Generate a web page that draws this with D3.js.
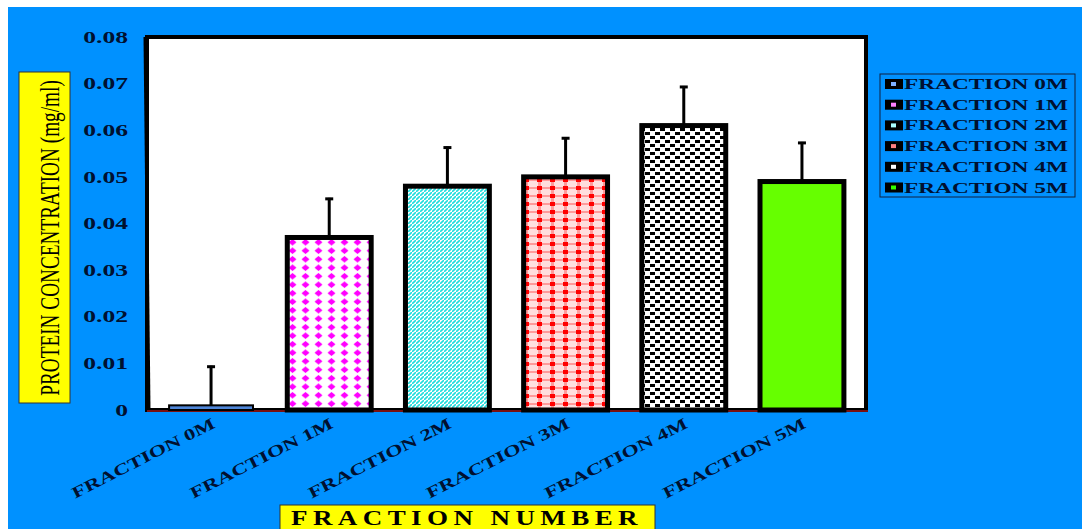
<!DOCTYPE html>
<html>
<head>
<meta charset="utf-8">
<script src="https://cdn.jsdelivr.net/npm/d3@7"></script>
<style>
  body { margin: 0; background: #fff; }
  svg text { font-family: "Liberation Serif", "Times New Roman", serif; }
</style>
</head>
<body>
<div id="chart"></div>
<script>
// data
const categories = ["FRACTION 0M", "FRACTION 1M", "FRACTION 2M", "FRACTION 3M", "FRACTION 4M", "FRACTION 5M"];
const values = [0.001, 0.037, 0.048, 0.050, 0.061, 0.049];
const errors = [0.0085, 0.0085, 0.0085, 0.0085, 0.0085, 0.0085];
const yTicks = [0, 0.01, 0.02, 0.03, 0.04, 0.05, 0.06, 0.07, 0.08];
const fills = ["url(#p0)", "url(#p1)", "url(#p2)", "url(#p3)", "url(#p4)", "url(#p5)"];
const dotColors = ["#7fb0ff", "#ff80ff", "#aaffff", "#ff8080", "#ffffff", "#33ff00"];

const W = 1082, H = 529;
const blue = "#0091ff";
const plot = { left: 147, top: 37, right: 866, bottom: 410 };

// the original uses a wide bold serif, so widen text by a factor
function stretch(sel, k) {
    sel.each(function () {
        const w = this.getComputedTextLength()
        d3.select(this).attr('textLength', w * k).attr('lengthAdjust', 'spacingAndGlyphs')
    })
}

const svg = d3.select('#chart').append('svg')
    .attr('width', W)
    .attr('height', H)

svg.append('rect').attr('x', 8).attr('y', 7).attr('width', W - 8).attr('height', H - 7).attr('fill', blue)

// patterns
const defs = svg.append('defs')
const p0 = defs.append('pattern').attr('id', 'p0').attr('patternUnits', 'userSpaceOnUse').attr('width', 4).attr('height', 4)
p0.append('rect').attr('width', 4).attr('height', 4).attr('fill', '#4f86d8')

const p1 = defs.append('pattern').attr('id', 'p1').attr('patternUnits', 'userSpaceOnUse').attr('width', 13).attr('height', 8.5)
p1.append('rect').attr('width', 13).attr('height', 8.5).attr('fill', '#fff')
p1.append('path').attr('d', 'M6.5 1 L10.5 4.25 L6.5 7.5 L2.5 4.25 Z').attr('fill', '#ff00ff')

const p2 = defs.append('pattern').attr('id', 'p2').attr('patternUnits', 'userSpaceOnUse').attr('width', 4).attr('height', 4)
p2.append('rect').attr('width', 4).attr('height', 4).attr('fill', '#fff')
p2.append('path').attr('d', 'M-1 5 L5 -1').attr('stroke', '#22dddd').attr('stroke-width', 1.6)

const p3 = defs.append('pattern').attr('id', 'p3').attr('patternUnits', 'userSpaceOnUse').attr('width', 13).attr('height', 8)
p3.append('rect').attr('width', 13).attr('height', 8).attr('fill', '#fff')
p3.append('rect').attr('x', 0).attr('y', 0).attr('width', 13).attr('height', 8).attr('fill', '#ffc8c8').attr('opacity', 0.6)
p3.append('rect').attr('x', 0).attr('y', 3).attr('width', 13).attr('height', 2).attr('fill', '#ff9a9a')
p3.append('rect').attr('x', 5).attr('y', 0).attr('width', 3).attr('height', 8).attr('fill', '#ff9a9a')
p3.append('rect').attr('x', 4).attr('y', 2).attr('width', 5).attr('height', 4).attr('fill', '#ff0000')

const p4 = defs.append('pattern').attr('id', 'p4').attr('patternUnits', 'userSpaceOnUse').attr('width', 10).attr('height', 8)
p4.append('rect').attr('width', 10).attr('height', 8).attr('fill', '#fff')
p4.append('rect').attr('x', 0).attr('y', 0).attr('width', 5).attr('height', 3).attr('fill', '#000')
p4.append('rect').attr('x', 5).attr('y', 4).attr('width', 5).attr('height', 3).attr('fill', '#000')

const p5 = defs.append('pattern').attr('id', 'p5').attr('patternUnits', 'userSpaceOnUse').attr('width', 4).attr('height', 4)
p5.append('rect').attr('width', 4).attr('height', 4).attr('fill', '#66ff00')

// scales
const x = d3.scaleBand().domain(categories).range([plot.left + 2, plot.right - 2]).paddingInner(0.29).paddingOuter(0.17)
const y = d3.scaleLinear().domain([0, 0.08]).range([plot.bottom, plot.top])

// plot area
svg.append('rect')
    .attr('x', plot.left).attr('y', plot.top)
    .attr('width', plot.right - plot.left).attr('height', plot.bottom - plot.top)
    .attr('fill', '#fff').attr('stroke', '#000').attr('stroke-width', 4)
svg.append('line')
    .attr('x1', plot.left - 2).attr('x2', plot.left + 2).attr('y1', plot.top).attr('y2', plot.bottom)
    .attr('stroke', '#000').attr('stroke-width', 3)
svg.append('line')
    .attr('x1', plot.left).attr('x2', plot.right + 2)
    .attr('y1', plot.bottom + 1).attr('y2', plot.bottom + 1)
    .attr('stroke', '#7a1010').attr('stroke-width', 2)

// y axis
const yAxis = svg.append('g').attr('transform', `translate(${plot.left - 19},0)`)
    .call(d3.axisLeft(y).tickValues(yTicks).tickSize(0).tickPadding(0).tickFormat(d => d === 0 ? "0" : d3.format(".2f")(d)))
yAxis.select('.domain').remove()
yAxis.selectAll('text')
    .attr('font-family', '"Liberation Serif", serif')
    .attr('font-weight', 'bold')
    .attr('font-size', 16)
    .attr('fill', '#001030')
    .call(stretch, 1.6)

// error bars
const eb = svg.append('g')
categories.forEach((c, i) => {
    const cx = x(c) + x.bandwidth() / 2
    eb.append('line').attr('x1', cx).attr('x2', cx)
        .attr('y1', y(values[i])).attr('y2', y(values[i] + errors[i]))
        .attr('stroke', '#000').attr('stroke-width', 3)
    eb.append('line').attr('x1', cx - 4).attr('x2', cx + 4)
        .attr('y1', y(values[i] + errors[i]) + 1).attr('y2', y(values[i] + errors[i]) + 1)
        .attr('stroke', '#000').attr('stroke-width', 3)
})

// bars
svg.append('g').selectAll('rect')
    .data(categories)
    .join('rect')
    .attr('x', d => x(d))
    .attr('y', (d, i) => y(values[i]))
    .attr('width', x.bandwidth())
    .attr('height', (d, i) => y(0) - y(values[i]))
    .attr('fill', (d, i) => fills[i])
    .attr('stroke', '#000')
    .attr('stroke-width', (d, i) => (y(0) - y(values[i])) < 12 ? 2 : 5)

// x labels
svg.append('g').selectAll('text')
    .data(categories)
    .join('text')
    .attr('transform', d => `translate(${x(d) + x.bandwidth() / 2 + 5},${plot.bottom + 17}) rotate(-27)`)
    .attr('text-anchor', 'end')
    .attr('font-weight', 'bold')
    .attr('font-size', 16)
    .attr('fill', '#001030')
    .attr('textLength', 158)
    .attr('lengthAdjust', 'spacingAndGlyphs')
    .text(d => d)

// y title (condensed: squeeze with a scale so the box stays honest)
svg.append('rect').attr('x', 19).attr('y', 72).attr('width', 51).attr('height', 331)
    .attr('fill', '#ffff00').attr('stroke', '#333').attr('stroke-width', 1)
const yTitle = svg.append('text')
    .attr('text-anchor', 'middle')
    .attr('font-size', 28)
    .attr('fill', '#000')
    .text('PROTEIN CONCENTRATION (mg/ml)')
const yTitleW = yTitle.node().getComputedTextLength()
yTitle.attr('transform', `translate(59,238) rotate(-90) scale(${316 / yTitleW},1)`)

// x title
svg.append('rect').attr('x', 280).attr('y', 505).attr('width', 375).attr('height', 30)
    .attr('fill', '#ffff00').attr('stroke', '#333').attr('stroke-width', 1)
svg.append('text')
    .attr('x', 467).attr('y', 525)
    .attr('text-anchor', 'middle')
    .attr('font-weight', 'bold')
    .attr('font-size', 20)
    .attr('letter-spacing', 4)
    .attr('textLength', 352)
    .attr('lengthAdjust', 'spacingAndGlyphs')
    .attr('fill', '#000')
    .text('FRACTION NUMBER')

// legend
const lg = svg.append('g')
lg.append('rect').attr('x', 880).attr('y', 74).attr('width', 195).attr('height', 123)
    .attr('fill', 'none').attr('stroke', '#102040').attr('stroke-width', 1)
categories.forEach((c, i) => {
    const ly = 84 + i * 20.7
    lg.append('rect').attr('x', 885).attr('y', ly - 5).attr('width', 18).attr('height', 10).attr('fill', '#000')
    lg.append('rect').attr('x', 891).attr('y', ly - 2).attr('width', 5).attr('height', 4).attr('fill', dotColors[i])
    lg.append('text').attr('x', 904).attr('y', ly + 5)
        .attr('font-weight', 'bold').attr('font-size', 15)
        .attr('textLength', 164)
        .attr('lengthAdjust', 'spacingAndGlyphs')
        .attr('fill', '#001030')
        .text(c)
})
</script>
</body>
</html>
